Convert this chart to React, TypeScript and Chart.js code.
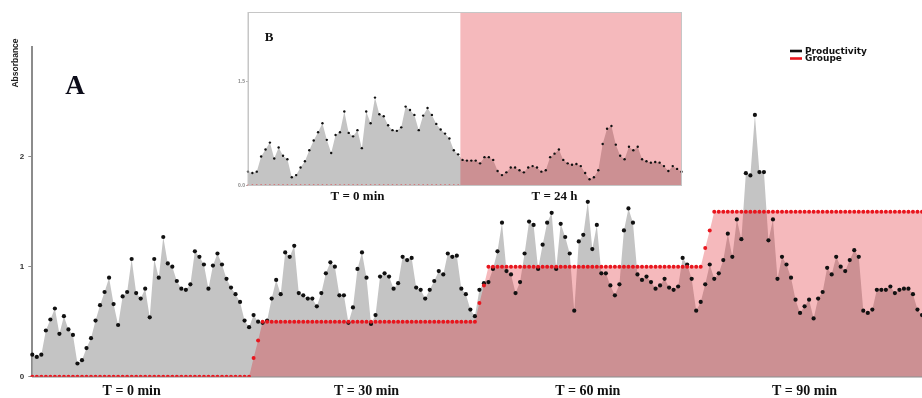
import React, { useEffect, useRef } from "react";
import { Chart, registerables } from "chart.js";

Chart.register(...registerables);

// ---------- data ----------
const productivity = [
  0.20, 0.18, 0.20, 0.42, 0.52, 0.62, 0.39, 0.55, 0.43, 0.38,
  0.12, 0.15, 0.26, 0.35, 0.51, 0.65, 0.77, 0.90, 0.66, 0.47,
  0.73, 0.77, 1.07, 0.76, 0.71, 0.80, 0.54, 1.07, 0.90, 1.27,
  1.03, 1.00, 0.87, 0.80, 0.79, 0.84, 1.14, 1.09, 1.02, 0.80,
  1.01, 1.12, 1.02, 0.89, 0.81, 0.75, 0.68, 0.51, 0.45, 0.56,
  0.50, 0.49, 0.51, 0.71, 0.88, 0.75, 1.13, 1.09, 1.19, 0.76,
  0.74, 0.71, 0.71, 0.64, 0.76, 0.94, 1.04, 1.00, 0.74, 0.74,
  0.49, 0.63, 0.98, 1.13, 0.90, 0.48, 0.56, 0.91, 0.94, 0.91,
  0.80, 0.85, 1.09, 1.06, 1.08, 0.81, 0.79, 0.71, 0.79, 0.87,
  0.96, 0.93, 1.12, 1.09, 1.10, 0.80, 0.75, 0.61, 0.55, 0.79,
  0.85, 0.86, 0.98, 1.14, 1.40, 0.96, 0.93, 0.76, 0.86, 1.12,
  1.41, 1.38, 0.98, 1.20, 1.40, 1.49, 0.98, 1.39, 1.27, 1.12,
  0.60, 1.23, 1.29, 1.59, 1.16, 1.38, 0.94, 0.94, 0.83, 0.74,
  0.84, 1.33, 1.53, 1.40, 0.93, 0.88, 0.91, 0.86, 0.80, 0.83,
  0.89, 0.81, 0.79, 0.82, 1.08, 1.02, 0.89, 0.60, 0.68, 0.84,
  1.02, 0.89, 0.94, 1.06, 1.30, 1.09, 1.43, 1.25, 1.85, 1.83,
  2.38, 1.86, 1.86, 1.24, 1.43, 0.89, 1.09, 1.02, 0.90, 0.70,
  0.58, 0.64, 0.70, 0.53, 0.71, 0.77, 0.99, 0.93, 1.09, 1.00,
  0.96, 1.06, 1.15, 1.09, 0.60, 0.58, 0.61, 0.79, 0.79, 0.79,
  0.82, 0.76, 0.79, 0.80, 0.80, 0.75, 0.61, 0.56,
];

const groupe = [
  0, 0, 0, 0, 0, 0, 0, 0, 0, 0,
  0, 0, 0, 0, 0, 0, 0, 0, 0, 0,
  0, 0, 0, 0, 0, 0, 0, 0, 0, 0,
  0, 0, 0, 0, 0, 0, 0, 0, 0, 0,
  0, 0, 0, 0, 0, 0, 0, 0, 0, 0.17,
  0.33, 0.5, 0.5, 0.5, 0.5, 0.5, 0.5, 0.5, 0.5, 0.5,
  0.5, 0.5, 0.5, 0.5, 0.5, 0.5, 0.5, 0.5, 0.5, 0.5,
  0.5, 0.5, 0.5, 0.5, 0.5, 0.5, 0.5, 0.5, 0.5, 0.5,
  0.5, 0.5, 0.5, 0.5, 0.5, 0.5, 0.5, 0.5, 0.5, 0.5,
  0.5, 0.5, 0.5, 0.5, 0.5, 0.5, 0.5, 0.5, 0.5, 0.67,
  0.83, 1, 1, 1, 1, 1, 1, 1, 1, 1,
  1, 1, 1, 1, 1, 1, 1, 1, 1, 1,
  1, 1, 1, 1, 1, 1, 1, 1, 1, 1,
  1, 1, 1, 1, 1, 1, 1, 1, 1, 1,
  1, 1, 1, 1, 1, 1, 1, 1, 1, 1.17,
  1.33, 1.5, 1.5, 1.5, 1.5, 1.5, 1.5, 1.5, 1.5, 1.5,
  1.5, 1.5, 1.5, 1.5, 1.5, 1.5, 1.5, 1.5, 1.5, 1.5,
  1.5, 1.5, 1.5, 1.5, 1.5, 1.5, 1.5, 1.5, 1.5, 1.5,
  1.5, 1.5, 1.5, 1.5, 1.5, 1.5, 1.5, 1.5, 1.5, 1.5,
  1.5, 1.5, 1.5, 1.5, 1.5, 1.5, 1.5, 1.5,
];

// inset B: first 49 samples are the T = 0 min samples, then T = 24 h
const insetT0Count = 49;
const insetT24 = [
  0.37, 0.36, 0.36, 0.36, 0.32, 0.41, 0.41, 0.37, 0.21, 0.15,
  0.19, 0.26, 0.26, 0.22, 0.19, 0.26, 0.28, 0.26, 0.20, 0.22,
  0.41, 0.46, 0.52, 0.37, 0.32, 0.30, 0.31, 0.28, 0.18, 0.09,
  0.12, 0.22, 0.60, 0.82, 0.86, 0.59, 0.43, 0.38, 0.56, 0.51,
  0.56, 0.38, 0.35, 0.33, 0.34, 0.33, 0.28, 0.21, 0.28, 0.24,
  0.20,
];
const insetGroupe = [
  0, 0, 0, 0, 0, 0, 0, 0, 0, 0,
  0, 0, 0, 0, 0, 0, 0, 0, 0, 0,
  0, 0, 0, 0, 0, 0, 0, 0, 0, 0,
  0, 0, 0, 0, 0, 0, 0, 0, 0, 0,
  0, 0, 0, 0, 0, 0, 0, 0, 0, 2.5,
  2.5, 2.5, 2.5, 2.5, 2.5, 2.5, 2.5, 2.5, 2.5, 2.5,
  2.5, 2.5, 2.5, 2.5, 2.5, 2.5, 2.5, 2.5, 2.5, 2.5,
  2.5, 2.5, 2.5, 2.5, 2.5, 2.5, 2.5, 2.5, 2.5, 2.5,
  2.5, 2.5, 2.5, 2.5, 2.5, 2.5, 2.5, 2.5, 2.5, 2.5,
  2.5, 2.5, 2.5, 2.5, 2.5, 2.5, 2.5, 2.5, 2.5, 2.5,
];

const mainTickLabels = ["T = 0 min", "T = 30 min", "T = 60 min", "T = 90 min"];
const mainTickAt = [22, 74, 123, 171];
const insetTickLabels = ["T = 0 min", "T = 24 h"];
const insetTickAt = [25, 70];
const mainYTicks = [0, 1, 2];
const insetYTicks = [0, 1.5];

// ---------- styles ----------
const GRAY = "#c4c4c4";
const PINK = "rgba(222, 22, 32, 0.30)";
const RED = "#e8161e";
const BLACK = "#111111";
const AXIS = "#8c8c8c";
const SERIF = "'Liberation Serif', 'Times New Roman', serif";
const SANS = "'Liberation Sans', Arial, sans-serif";

const mainDecor = {
  id: "mainDecor",
  afterDraw(chart: any) {
    const ctx = chart.ctx;
    ctx.save();
    // panel letter
    ctx.fillStyle = "#0d0d1a";
    ctx.font = `bold 27px ${SERIF}`;
    ctx.textAlign = "center";
    ctx.textBaseline = "middle";
    ctx.fillText("A", 75, 87);
    // y axis title
    ctx.save();
    ctx.translate(16, 63);
    ctx.rotate(-Math.PI / 2);
    ctx.font = `bold 8.5px ${SANS}`;
    ctx.fillStyle = "#222";
    ctx.fillText("Absorbance", 0, 0);
    ctx.restore();
    // legend
    const items = [...chart.data.datasets].reverse();
    items.forEach((ds: any, i: number) => {
      const y = 51 + i * 7.5;
      ctx.strokeStyle = ds.legendColor;
      ctx.lineWidth = 2.6;
      ctx.beginPath();
      ctx.moveTo(790, y);
      ctx.lineTo(802, y);
      ctx.stroke();
      ctx.fillStyle = "#111";
      ctx.font = `bold 9px 'DejaVu Sans', sans-serif`;
      ctx.textAlign = "left";
      ctx.textBaseline = "middle";
      ctx.fillText(ds.label, 805, y + 0.5);
    });
    ctx.restore();
  },
};

const insetDecor = {
  id: "insetDecor",
  afterDatasetsDraw(chart: any) {
    const { ctx, chartArea: a } = chart;
    ctx.save();
    ctx.strokeStyle = "#c6c6c6";
    ctx.lineWidth = 1;
    ctx.strokeRect(a.left, a.top, a.right - a.left, a.bottom - a.top);
    ctx.fillStyle = "#111";
    ctx.font = `bold 13px ${SERIF}`;
    ctx.textAlign = "center";
    ctx.textBaseline = "middle";
    ctx.fillText("B", 44, 38);
    ctx.restore();
  },
};

export default function App() {
  const mainRef = useRef<HTMLCanvasElement>(null);
  const insetRef = useRef<HTMLCanvasElement>(null);

  useEffect(() => {
    const main = new Chart(mainRef.current as HTMLCanvasElement, {
      type: "line",
      data: {
        labels: productivity.map((_, i) => String(i + 1)),
        datasets: [
          {
            label: "Groupe",
            data: groupe,
            borderColor: "rgba(0,0,0,0)",
            borderWidth: 1,
            backgroundColor: PINK,
            fill: "origin",
            pointRadius: 2,
            pointBackgroundColor: RED,
            pointBorderWidth: 0,
            tension: 0,
            legendColor: RED,
          } as any,
          {
            label: "Productivity",
            data: productivity,
            borderColor: "rgba(0,0,0,0)",
            borderWidth: 1,
            backgroundColor: GRAY,
            fill: "origin",
            pointRadius: 2.1,
            pointBackgroundColor: BLACK,
            pointBorderWidth: 0,
            tension: 0,
            legendColor: BLACK,
          } as any,
        ],
      },
      options: {
        responsive: false,
        animation: false,
        events: [],
        layout: { autoPadding: false, padding: { top: 46.7, right: 0, left: 0, bottom: 0 } },
        plugins: {
          legend: { display: false },
          tooltip: { enabled: false },
          filler: { drawTime: "beforeDatasetsDraw" },
        } as any,
        scales: {
          x: {
            type: "category",
            grid: { display: false, drawTicks: true, tickLength: 6.5 },
            border: { display: true, color: AXIS, width: 1.5 },
            ticks: {
              autoSkip: false,
              maxRotation: 0,
              minRotation: 0,
              padding: 0,
              color: "#111",
              font: { family: SERIF, size: 14, weight: "bold" },
              callback: (_v: any, i: number) => {
                const k = mainTickAt.indexOf(i);
                return k >= 0 ? mainTickLabels[k] : "";
              },
            },
            afterFit: (s: any) => {
              s.height = 21.3;
            },
          },
          y: {
            min: 0,
            max: 3,
            afterBuildTicks: (s: any) => {
              s.ticks = mainYTicks.map((v) => ({ value: v }));
            },
            grid: { display: true, drawOnChartArea: false, drawTicks: true, tickLength: 4, color: AXIS },
            border: { display: true, color: AXIS, width: 2 },
            ticks: { padding: 4, color: "#333", font: { family: SANS, size: 8, weight: "bold" } },
            afterFit: (s: any) => {
              s.width = 32.3;
            },
          },
        },
      } as any,
      plugins: [mainDecor],
    });

    const insetProd = productivity.slice(0, insetT0Count).concat(insetT24);
    const inset = new Chart(insetRef.current as HTMLCanvasElement, {
      type: "line",
      data: {
        labels: insetProd.map((_, i) => String(i + 1)),
        datasets: [
          {
            label: "Groupe",
            data: insetGroupe,
            stepped: "middle",
            borderColor: "rgba(0,0,0,0)",
            borderWidth: 1,
            backgroundColor: PINK,
            fill: "origin",
            pointRadius: (c: any) => (c.raw > 0 ? 0 : 1.1),
            pointBackgroundColor: RED,
            pointBorderWidth: 0,
          } as any,
          {
            label: "Productivity",
            data: insetProd,
            borderColor: "rgba(0,0,0,0)",
            borderWidth: 1,
            backgroundColor: GRAY,
            fill: "origin",
            pointRadius: 1.2,
            pointBackgroundColor: BLACK,
            pointBorderWidth: 0,
            tension: 0,
          } as any,
        ],
      },
      options: {
        responsive: false,
        animation: false,
        events: [],
        layout: { autoPadding: false, padding: { top: 12.5, right: 13.5, left: 0, bottom: 0 } },
        plugins: {
          legend: { display: false },
          tooltip: { enabled: false },
          filler: { drawTime: "beforeDatasetsDraw" },
        } as any,
        scales: {
          x: {
            type: "category",
            grid: { display: false, drawTicks: true, tickLength: 3 },
            border: { display: true, color: "#c6c6c6", width: 1 },
            ticks: {
              autoSkip: false,
              maxRotation: 0,
              minRotation: 0,
              padding: 0,
              color: "#111",
              font: { family: SERIF, size: 13, weight: "bold" },
              callback: (_v: any, i: number) => {
                const k = insetTickAt.indexOf(i);
                return k >= 0 ? insetTickLabels[k] : "";
              },
            },
            afterFit: (s: any) => {
              s.height = 19.5;
            },
          },
          y: {
            min: 0,
            max: 2.5,
            afterBuildTicks: (s: any) => {
              s.ticks = insetYTicks.map((v) => ({ value: v }));
            },
            grid: { display: true, drawOnChartArea: false, drawTicks: true, tickLength: 2, color: "#b0b0b0" },
            border: { display: true, color: "#c6c6c6", width: 1 },
            ticks: {
              padding: 1,
              color: "#888",
              font: { family: SANS, size: 5, weight: "bold" },
              callback: (v: any) => Number(v).toFixed(1),
            },
            afterFit: (s: any) => {
              s.width = 23;
            },
          },
        },
      } as any,
      plugins: [insetDecor],
    });

    return () => {
      main.destroy();
      inset.destroy();
    };
  }, []);

  return (
    <div style={{ position: "absolute", left: 0, top: 0, width: 922, height: 398, background: "#fff", overflow: "hidden" }}>
      <canvas ref={mainRef} width={922} height={398} style={{ position: "absolute", left: 0, top: 0 }} />
      <canvas ref={insetRef} width={470} height={205} style={{ position: "absolute", left: 225, top: 0 }} />
    </div>
  );
}
